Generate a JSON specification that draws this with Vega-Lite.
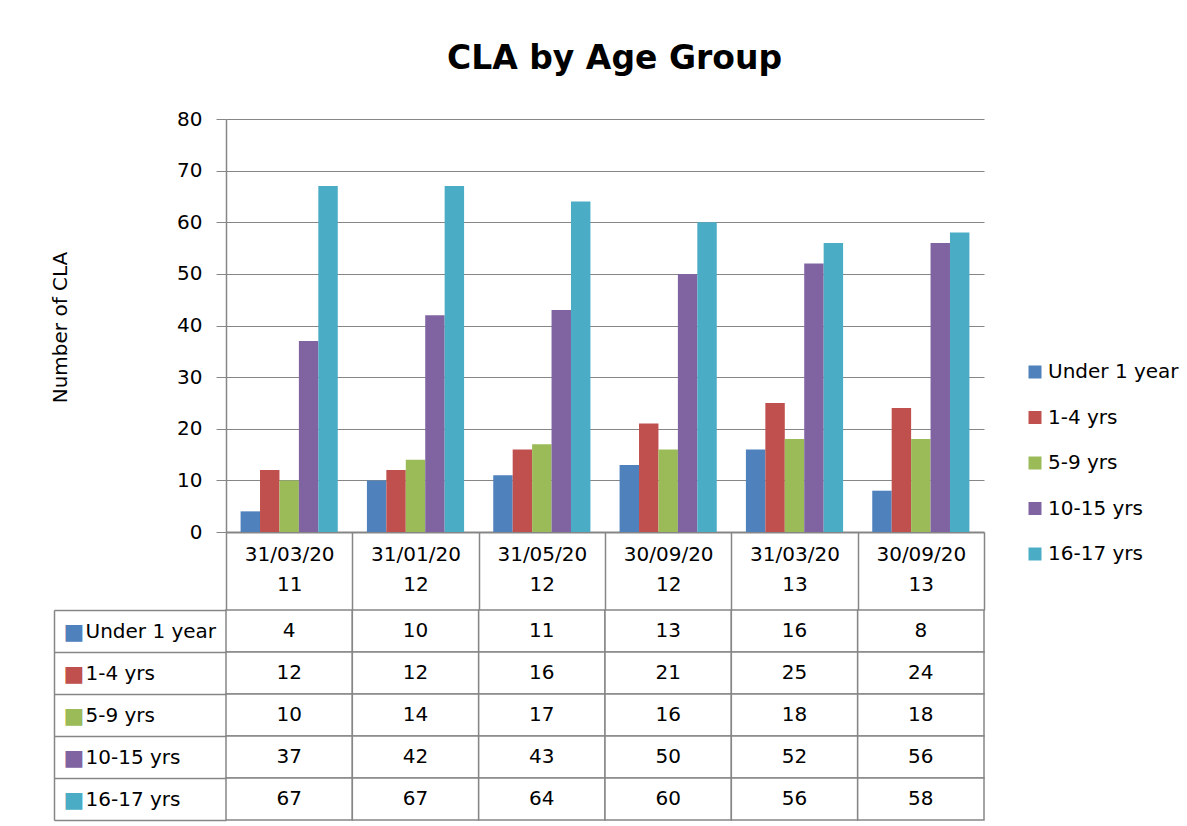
{
  "$schema": "https://vega.github.io/schema/vega-lite/v6.json",
  "background": "white",
  "padding": {"left": 50, "top": 43, "right": 5, "bottom": 5},
  "title": {"text": "CLA by Age Group", "font": "DejaVu Sans", "fontSize": 33, "fontWeight": "bold", "color": "black", "anchor": "middle", "frame": "bounds", "offset": 33},
  "datasets": {
    "cla": [
      {"date": "31/03/2011", "series": "Under 1 year", "value": 4},
      {"date": "31/01/2012", "series": "Under 1 year", "value": 10},
      {"date": "31/05/2012", "series": "Under 1 year", "value": 11},
      {"date": "30/09/2012", "series": "Under 1 year", "value": 13},
      {"date": "31/03/2013", "series": "Under 1 year", "value": 16},
      {"date": "30/09/2013", "series": "Under 1 year", "value": 8},
      {"date": "31/03/2011", "series": "1-4 yrs", "value": 12},
      {"date": "31/01/2012", "series": "1-4 yrs", "value": 12},
      {"date": "31/05/2012", "series": "1-4 yrs", "value": 16},
      {"date": "30/09/2012", "series": "1-4 yrs", "value": 21},
      {"date": "31/03/2013", "series": "1-4 yrs", "value": 25},
      {"date": "30/09/2013", "series": "1-4 yrs", "value": 24},
      {"date": "31/03/2011", "series": "5-9 yrs", "value": 10},
      {"date": "31/01/2012", "series": "5-9 yrs", "value": 14},
      {"date": "31/05/2012", "series": "5-9 yrs", "value": 17},
      {"date": "30/09/2012", "series": "5-9 yrs", "value": 16},
      {"date": "31/03/2013", "series": "5-9 yrs", "value": 18},
      {"date": "30/09/2013", "series": "5-9 yrs", "value": 18},
      {"date": "31/03/2011", "series": "10-15 yrs", "value": 37},
      {"date": "31/01/2012", "series": "10-15 yrs", "value": 42},
      {"date": "31/05/2012", "series": "10-15 yrs", "value": 43},
      {"date": "30/09/2012", "series": "10-15 yrs", "value": 50},
      {"date": "31/03/2013", "series": "10-15 yrs", "value": 52},
      {"date": "30/09/2013", "series": "10-15 yrs", "value": 56},
      {"date": "31/03/2011", "series": "16-17 yrs", "value": 67},
      {"date": "31/01/2012", "series": "16-17 yrs", "value": 67},
      {"date": "31/05/2012", "series": "16-17 yrs", "value": 64},
      {"date": "30/09/2012", "series": "16-17 yrs", "value": 60},
      {"date": "31/03/2013", "series": "16-17 yrs", "value": 56},
      {"date": "30/09/2013", "series": "16-17 yrs", "value": 58}
    ]
  },
  "data": {"name": "cla"},
  "config": {
    "font": "DejaVu Sans",
    "view": {"stroke": null},
    "axis": {"labelFont": "DejaVu Sans", "labelColor": "black", "titleColor": "black", "domainColor": "#868686", "tickColor": "#868686", "gridColor": "#868686", "gridOpacity": 1},
    "legend": {"labelFont": "DejaVu Sans"}
  },
  "resolve": {"legend": {"color": "independent"}},
  "bounds": "flush",
  "spacing": 78,
  "vconcat": [
    {
      "width": 758,
      "height": 413,
      "mark": {"type": "bar"},
      "encoding": {
        "x": {
          "field": "date", "type": "nominal",
          "sort": ["31/03/2011", "31/01/2012", "31/05/2012", "30/09/2012", "31/03/2013", "30/09/2013"],
          "scale": {"paddingInner": 0, "paddingOuter": 0},
          "axis": {"title": null, "labelAngle": 0, "labelExpr": "[slice(datum.label,0,8), slice(datum.label,8)]", "tickBand": "extent", "tickSize": 78, "tickWidth": 1.5, "labelPadding": -66, "labelFontSize": 20, "labelLineHeight": 30, "domainWidth": 2, "labelOverlap": false, "labelBound": false}
        },
        "xOffset": {
          "field": "series", "type": "nominal",
          "sort": ["Under 1 year", "1-4 yrs", "5-9 yrs", "10-15 yrs", "16-17 yrs"],
          "scale": {"paddingInner": 0, "paddingOuter": 0.75}
        },
        "y": {
          "field": "value", "type": "quantitative",
          "scale": {"domain": [0, 80], "nice": false},
          "axis": {"title": "Number of CLA", "values": [0, 10, 20, 30, 40, 50, 60, 70, 80], "tickSize": 10, "labelPadding": 14, "labelFontSize": 20, "grid": true, "gridWidth": 1, "domainWidth": 1.5, "titleFontSize": 20, "titleFontWeight": "normal", "titleX": -166, "titleY": 208, "titleAngle": 270, "titleAlign": "center", "titleBaseline": "middle"}
        },
        "color": {
          "field": "series", "type": "nominal",
          "sort": ["Under 1 year", "1-4 yrs", "5-9 yrs", "10-15 yrs", "16-17 yrs"],
          "scale": {"domain": ["Under 1 year", "1-4 yrs", "5-9 yrs", "10-15 yrs", "16-17 yrs"], "range": ["#4F81BD", "#C0504D", "#9BBB59", "#8064A2", "#4BACC6"]},
          "legend": {"title": null, "orient": "none", "legendX": 799, "legendY": 243, "symbolType": "square", "symbolSize": 169, "symbolStrokeWidth": 0, "symbolOpacity": 1, "labelFontSize": 20, "labelColor": "black", "labelOffset": 3, "rowPadding": 25.5, "padding": 0}
        }
      }
    },
    {
      "width": 758,
      "height": 210,
      "layer": [
        {
          "mark": {"type": "rect", "fill": "white", "stroke": "#868686", "strokeWidth": 1.5},
          "encoding": {
            "x": {"field": "date", "type": "nominal", "sort": ["31/03/2011", "31/01/2012", "31/05/2012", "30/09/2012", "31/03/2013", "30/09/2013"], "scale": {"paddingInner": 0, "paddingOuter": 0}, "axis": null},
            "y": {
              "field": "series", "type": "nominal",
              "sort": ["Under 1 year", "1-4 yrs", "5-9 yrs", "10-15 yrs", "16-17 yrs"],
              "scale": {"paddingInner": 0, "paddingOuter": 0},
              "axis": {"orient": "left", "title": null, "offset": 172, "tickSize": -172, "tickBand": "extent", "tickWidth": 1.5, "domain": true, "domainWidth": 1.5, "labelAlign": "left", "labelPadding": 141, "labelFontSize": 20, "labelBound": false, "labelOverlap": false}
            }
          }
        },
        {
          "mark": {"type": "text", "fontSize": 20, "color": "black"},
          "encoding": {
            "x": {"field": "date", "type": "nominal", "sort": ["31/03/2011", "31/01/2012", "31/05/2012", "30/09/2012", "31/03/2013", "30/09/2013"], "scale": {"paddingInner": 0, "paddingOuter": 0}, "axis": null},
            "y": {
              "field": "series", "type": "nominal",
              "sort": ["Under 1 year", "1-4 yrs", "5-9 yrs", "10-15 yrs", "16-17 yrs"],
              "scale": {"paddingInner": 0, "paddingOuter": 0},
              "axis": {"orient": "left", "title": null, "ticks": false, "domain": false, "labelExpr": "'■'", "labelAlign": "left", "labelPadding": 163, "labelFontSize": 22, "labelBound": false, "labelOverlap": false,
                "labelColor": {"expr": "datum.value === 'Under 1 year' ? '#4F81BD' : datum.value === '1-4 yrs' ? '#C0504D' : datum.value === '5-9 yrs' ? '#9BBB59' : datum.value === '10-15 yrs' ? '#8064A2' : '#4BACC6'"}}
            },
            "text": {"field": "value", "type": "quantitative"}
          }
        }
      ],
      "resolve": {"scale": {"y": "independent"}, "axis": {"y": "independent"}}
    }
  ]
}
